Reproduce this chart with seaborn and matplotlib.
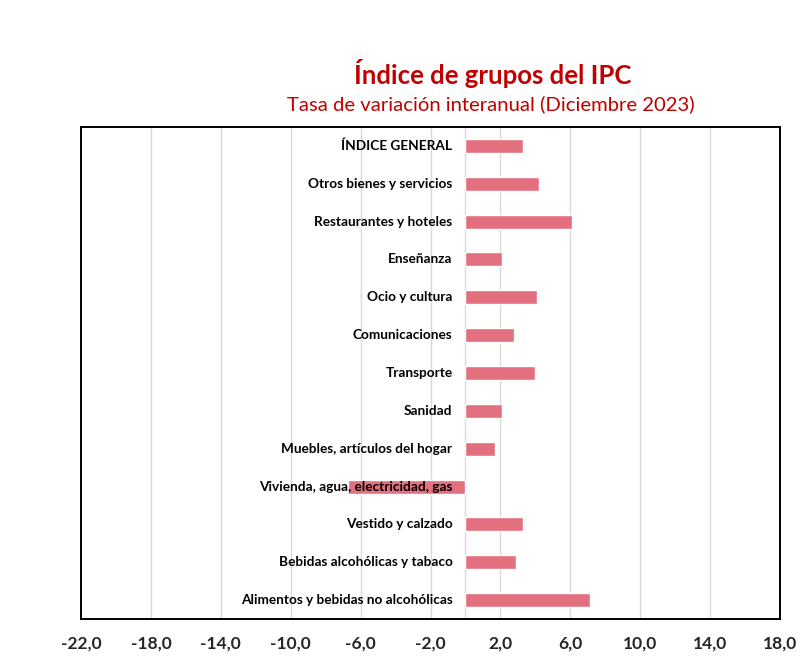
import pandas as pd
import matplotlib.pyplot as plt
import matplotlib.transforms as mtransforms
import seaborn as sns

# --- DATA ---
groups = [
    "ÍNDICE GENERAL",
    "Otros bienes y servicios",
    "Restaurantes y hoteles",
    "Enseñanza",
    "Ocio y cultura",
    "Comunicaciones",
    "Transporte",
    "Sanidad",
    "Muebles, artículos del hogar",
    "Vivienda, agua, electricidad, gas",
    "Vestido y calzado",
    "Bebidas alcohólicas y tabaco",
    "Alimentos y bebidas no alcohólicas",
]
rates = [3.3, 4.2, 6.1, 2.1, 4.1, 2.8, 4.0, 2.1, 1.7, -6.7, 3.3, 2.9, 7.1]
x_ticks = [-22, -18, -14, -10, -6, -2, 2, 6, 10, 14, 18]

df = pd.DataFrame({"grupo": groups, "tasa": rates})

sns.set_style("white")
plt.rcParams["font.family"] = ["Lato", "DejaVu Sans"]

fig = plt.figure(figsize=(8.05, 6.63), dpi=100)
ax = fig.add_axes([0.1006, 0.0664, 0.8684, 0.742])

sns.barplot(data=df, x="tasa", y="grupo", orient="h", color="#E3707F",
            width=0.37, saturation=1, ax=ax, zorder=2)

ax.set_xlim(-22, 18)
ax.set_ylim(len(groups) - 0.5, -0.5)

# vertical gridlines and zero line
for t in x_ticks[1:-1]:
    ax.axvline(t, color="#D9D9D9", lw=1, zorder=0)
ax.axvline(0, color="#D9D9D9", lw=1, zorder=1)

ax.set_xticks(x_ticks)
ax.set_xticklabels([f"{t:.1f}".replace(".", ",") for t in x_ticks],
                   fontsize=12.5, fontweight="bold")
ax.tick_params(axis="x", length=0, pad=12)
ax.set_yticks([])
ax.set_xlabel("")
ax.set_ylabel("")

for s in ax.spines.values():
    s.set_visible(True)
    s.set_color("black")
    s.set_linewidth(1.4)

# category labels next to the zero axis
offset = mtransforms.offset_copy(ax.transData, fig=fig, x=-13, y=0, units="dots")
for i, g in enumerate(groups):
    ax.text(0, i, g, transform=offset, ha="right", va="center",
            fontsize=9.8, fontweight="bold", color="black", zorder=3)

fig.text(0.612, 0.889, "Índice de grupos del IPC", ha="center", va="center",
         fontsize=18.5, fontweight="bold", color="#C00000")
fig.text(0.610, 0.843, "Tasa de variación interanual (Diciembre 2023)",
         ha="center", va="center", fontsize=14.6, color="#C00000")

plt.savefig("out.png", dpi=100)
